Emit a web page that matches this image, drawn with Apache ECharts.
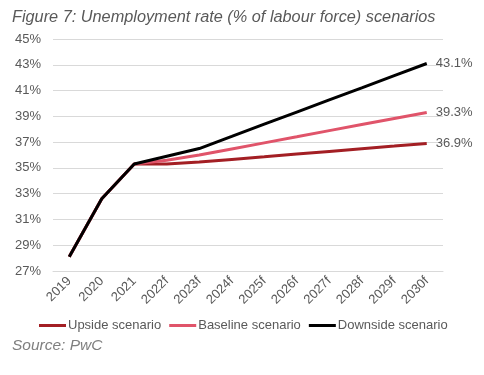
<!DOCTYPE html>
<html><head><meta charset="utf-8">
<script src="https://cdn.jsdelivr.net/npm/echarts@6/dist/echarts.min.js"></script>
<style>html,body{margin:0;padding:0;background:#fff}#c{width:484px;height:375px}</style>
</head><body><div id="c"></div>
<script>
var categories = ['2019','2020','2021','2022f','2023f','2024f','2025f','2026f','2027f','2028f','2029f','2030f'];
var upside    = [28.1, 32.6, 35.3, 35.3, 35.45, 35.66, 35.86, 36.07, 36.28, 36.49, 36.69, 36.9];
var baseline  = [28.1, 32.6, 35.3, 35.6, 36.0, 36.47, 36.94, 37.41, 37.89, 38.36, 38.83, 39.3];
var downside  = [28.1, 32.6, 35.3, 35.9, 36.5, 37.44, 38.39, 39.33, 40.27, 41.21, 42.16, 43.1];
var yTicks = {min: 27, max: 45, step: 2};

var font = 'Liberation Sans, Arial, sans-serif';
var grey = '#595959';
function mk(name, data, color) {
  return {
    name: name, type: 'line', data: data, symbol: 'none', smooth: false,
    lineStyle: {color: color, width: 3}, itemStyle: {color: color},
    endLabel: {show: true, color: grey, fontFamily: font, fontSize: 13, distance: 9,
      formatter: function (p) { return p.value.toFixed(1) + '%'; }},
    animation: false
  };
}
var chart = echarts.init(document.getElementById('c'));
chart.setOption({
  animation: false,
  title: [{text: 'Figure 7: Unemployment rate (% of labour force) scenarios', left: 7, top: 4,
    textStyle: {fontStyle: 'italic', fontWeight: 'normal', fontSize: 16.3, color: grey, fontFamily: font}},
    {text: 'Source: PwC', left: 7, top: 333,
    textStyle: {fontStyle: 'italic', fontWeight: 'normal', fontSize: 15.5, color: '#7f7f7f', fontFamily: font}}],
  grid: {left: 53, right: 41, top: 39, bottom: 104},
  legend: {left: 34, top: 314, itemWidth: 27, itemHeight: 3, itemGap: 8, icon: 'rect',
    textStyle: {color: grey, fontSize: 13, fontFamily: font, padding: [0, 0, 0, -3]},
    data: ['Upside scenario', 'Baseline scenario', 'Downside scenario']},
  xAxis: {type: 'category', data: categories, boundaryGap: true,
    axisLine: {lineStyle: {color: '#d9d9d9'}}, axisTick: {show: false},
    axisLabel: {rotate: 45, color: grey, fontSize: 13, fontFamily: font, interval: 0, margin: 8}},
  yAxis: {type: 'value', min: yTicks.min, max: yTicks.max, interval: yTicks.step,
    axisLine: {show: false}, axisTick: {show: false},
    splitLine: {lineStyle: {color: '#d9d9d9'}},
    axisLabel: {color: grey, fontSize: 13, fontFamily: font, margin: 12, formatter: '{value}%'}},
  series: [mk('Upside scenario', upside, '#a31f24'), mk('Baseline scenario', baseline, '#e0546a'), mk('Downside scenario', downside, '#000000')]
});
</script></body></html>
